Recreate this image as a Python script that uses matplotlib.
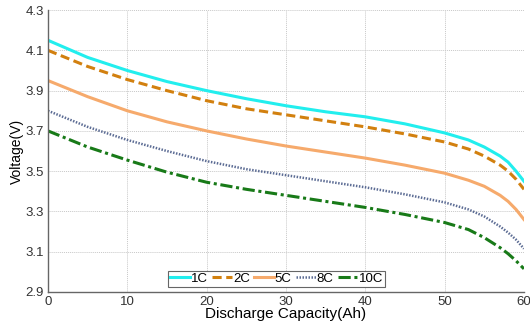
import matplotlib
matplotlib.use('Agg')
import matplotlib.pyplot as plt

plt.rcParams['font.family'] = ['Liberation Sans', 'DejaVu Sans']

# discharge capacity (Ah)
capacity = [0, 5, 10, 15, 20, 25, 30, 35, 40, 45, 50, 53, 55, 57, 58, 59, 60]

# voltage (V) per discharge rate
v_1c = [4.15, 4.065, 4.0, 3.945, 3.90, 3.86, 3.825, 3.795, 3.77, 3.735, 3.69, 3.655, 3.62, 3.575, 3.545, 3.50, 3.45]
v_2c = [4.10, 4.02, 3.955, 3.90, 3.85, 3.81, 3.78, 3.75, 3.72, 3.685, 3.645, 3.61, 3.575, 3.53, 3.50, 3.46, 3.41]
v_5c = [3.95, 3.87, 3.80, 3.745, 3.70, 3.66, 3.625, 3.595, 3.565, 3.53, 3.49, 3.455, 3.425, 3.38, 3.35, 3.31, 3.26]
v_8c = [3.80, 3.72, 3.655, 3.60, 3.55, 3.51, 3.48, 3.45, 3.42, 3.385, 3.345, 3.31, 3.275, 3.225, 3.195, 3.16, 3.115]
v_10c = [3.70, 3.62, 3.555, 3.495, 3.445, 3.41, 3.38, 3.35, 3.32, 3.285, 3.245, 3.21, 3.17, 3.12, 3.09, 3.055, 3.015]

labels = ['1C', '2C', '5C', '8C', '10C']
xticks = [0, 10, 20, 30, 40, 50, 60]
yticks = [2.9, 3.1, 3.3, 3.5, 3.7, 3.9, 4.1, 4.3]

fig = plt.figure(figsize=(5.3, 3.24), dpi=100)
ax = fig.add_axes([0.0906, 0.0988, 0.898, 0.870])

ax.plot(capacity, v_1c, color='#22EEEE', lw=2.2, ls='-', label=labels[0])
ax.plot(capacity, v_2c, color='#D2800F', lw=2.2, ls=(0, (3, 1.5)), label=labels[1])
ax.plot(capacity, v_5c, color='#F6AA6C', lw=2.2, ls='-', label=labels[2])
ax.plot(capacity, v_8c, color='#5C6C94', lw=1.8, ls=(0, (0.6, 0.6)), label=labels[3])
ax.plot(capacity, v_10c, color='#187A18', lw=2.2, ls=(0, (4, 1.2, 1, 1.2)), label=labels[4])

ax.set_xlim(0, 60)
ax.set_ylim(2.9, 4.3)
ax.set_xticks(xticks)
ax.set_yticks(yticks)
ax.set_yticklabels(['%.1f' % t for t in yticks])
ax.tick_params(length=0, labelsize=9.5, colors='#333333', pad=3)
ax.grid(True, color='#c8c8c8', ls=(0, (1, 1)), lw=0.7)

for s in ['top', 'right']:
    ax.spines[s].set_visible(False)
for s in ['left', 'bottom']:
    ax.spines[s].set_color('#666666')
    ax.spines[s].set_linewidth(1.0)

ax.set_xlabel('Discharge Capacity(Ah)', fontsize=11, labelpad=-1)
ax.set_ylabel('Voltage(V)', fontsize=10, labelpad=1)

leg = ax.legend(loc='lower center', bbox_to_anchor=(0.48, 0.0), ncol=5, fontsize=9.5,
                handlelength=1.5, handletextpad=0.1, columnspacing=0.3,
                borderpad=0.15, fancybox=False, framealpha=1, borderaxespad=0.4)
leg.get_frame().set_edgecolor('#666666')
leg.get_frame().set_linewidth(0.8)

fig.savefig('out.png', dpi=100)
